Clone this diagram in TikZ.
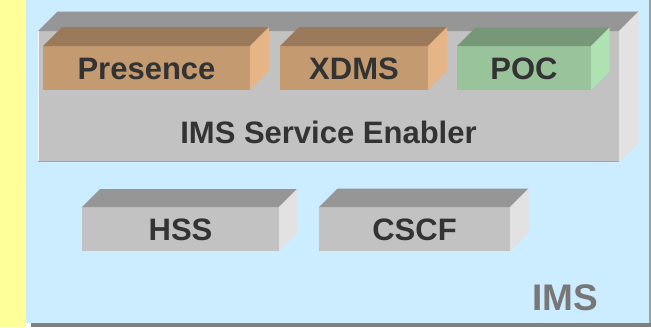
\documentclass[tikz,border=0pt]{standalone}
\usepackage{fontspec}
\setmainfont{Liberation Sans}
\usetikzlibrary{calc}

\definecolor{panelblue}{HTML}{CCECFF}
\definecolor{stripyellow}{HTML}{FFFF99}
\definecolor{shadowgray}{HTML}{808080}
\definecolor{edgegray}{HTML}{A0A0A0}
\definecolor{txtdark}{HTML}{333333}
\definecolor{txtgray}{HTML}{777777}
% grey block faces
\definecolor{gfront}{HTML}{C2C2C2}
\definecolor{gtop}{HTML}{969696}
\definecolor{gside}{HTML}{E2E2E2}
% tan block faces
\definecolor{tfront}{HTML}{C49A70}
\definecolor{ttop}{HTML}{9A7A5A}
\definecolor{tside}{HTML}{E5B587}
% green block faces
\definecolor{pfront}{HTML}{99C49B}
\definecolor{ptop}{HTML}{779878}
\definecolor{pside}{HTML}{AEE2B2}

\tikzset{
  face/.style={rectangle, inner sep=0pt, outer sep=0pt, anchor=north west,
    text=txtdark, font=\bfseries\fontsize{31}{31}\selectfont,
    text height=22.2pt, text depth=0pt},
  label/.style={inner sep=0pt, anchor=base, text=txtdark,
    font=\bfseries\fontsize{31}{31}\selectfont},
}

% top and right faces of a block whose front face is node #1
\newcommand\extrude[4]{%
  \fill[#3] (#1.north west) -- ($(#1.north west)+(#2,-#2)$)
     -- ($(#1.north east)+(#2,-#2)$) -- (#1.north east) -- cycle;
  \fill[#4] (#1.north east) -- ($(#1.north east)+(#2,-#2)$)
     -- ($(#1.south east)+(#2,-#2)$) -- (#1.south east) -- cycle;
}

\begin{document}
\begin{tikzpicture}[x=1pt,y=-1pt]
\useasboundingbox (0,0) rectangle (651,327);

% backdrop
\fill[stripyellow] (0,0) rectangle (26,327);
\fill[panelblue] (26,0) rectangle (651,323);
\fill[shadowgray] (31,323) rectangle (651,327);
\fill[edgegray] (649,0) rectangle (650.5,323);

% service enabler block
\node[face, fill=gfront, minimum width=581pt, minimum height=131pt] (ise) at (38,31) {};
\extrude{ise}{19.5}{gtop}{gside}
\draw[white!85!gfront, line width=1pt] ([xshift=0.5pt]ise.south west) -- ([xshift=0.5pt]ise.north west);
\draw[gfront!85!black, line width=1pt] ([yshift=0.5pt]ise.south west) -- ([yshift=0.5pt]ise.south east);
\node[label] (isel) at (328.5,143) {IMS Service Enabler};

% enabler components
\node[face, fill=tfront, minimum width=207pt, minimum height=44pt] (pres) at (43,46) {Presence};
\extrude{pres}{19}{ttop}{tside}
\node[face, fill=tfront, minimum width=148pt, minimum height=44pt] (xdms) at (280,46) {XDMS};
\extrude{xdms}{19}{ttop}{tside}
\node[face, fill=pfront, minimum width=134pt, minimum height=44pt] (poc) at (457,46) {POC};
\extrude{poc}{18.5}{ptop}{pside}

% core network blocks
\node[face, fill=gfront, minimum width=197pt, minimum height=44pt] (hss) at (82,207) {HSS};
\extrude{hss}{18}{gtop}{gside}
\node[face, fill=gfront, minimum width=191pt, minimum height=44pt] (cscf) at (319,207) {CSCF};
\extrude{cscf}{18.5}{gtop}{gside}

% domain caption
\node[inner sep=0pt, anchor=base, text=txtgray,
  font=\bfseries\fontsize{37}{37}\selectfont] (ims) at (565.5,310) {IMS};
\end{tikzpicture}
\end{document}
